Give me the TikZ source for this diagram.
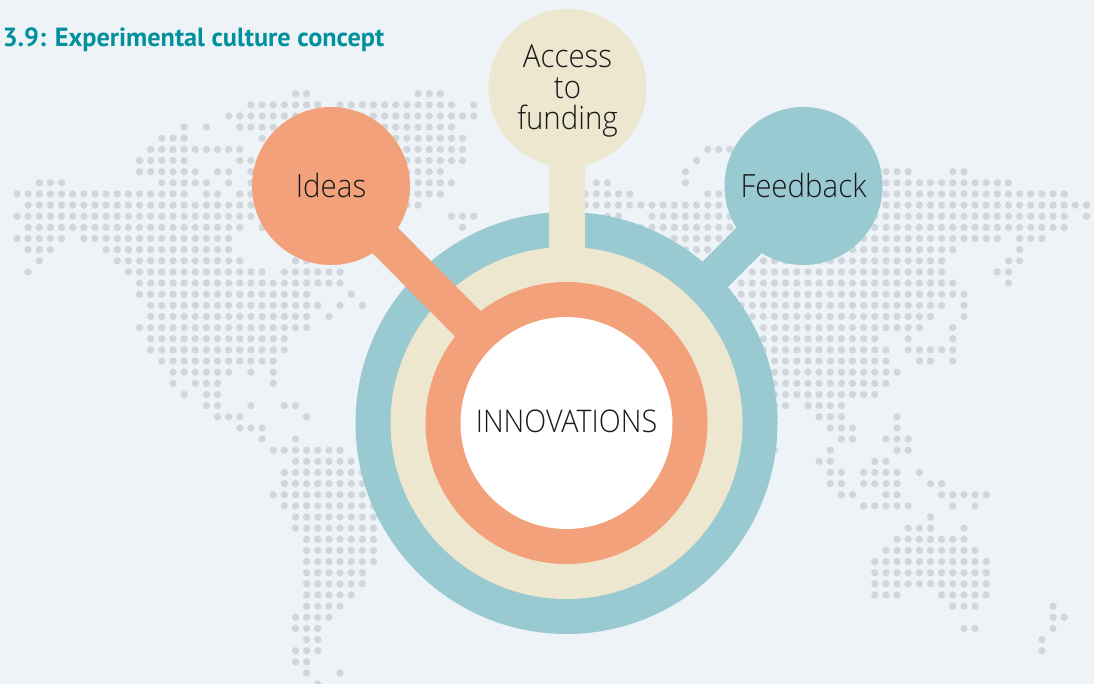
\documentclass[tikz,border=0pt]{standalone}
\usepackage{fontspec}
\usepackage{tikz}
\setmainfont{Open Sans}[UprightFont=* Light,FakeStretch=.92]
\newfontfamily\headfont{PT Sans}
\definecolor{PageBlue}{HTML}{EDF3F7}
\definecolor{MapGray}{HTML}{D1D6DB}
\definecolor{RingTeal}{HTML}{9ACAD1}
\definecolor{RingCream}{HTML}{EEE7D0}
\definecolor{RingOrange}{HTML}{F3A17A}
\definecolor{HeadTeal}{HTML}{00909E}
\definecolor{LabelInk}{HTML}{1A1A1A}
\tikzset{
  disc/.style={circle,inner sep=0pt,text=LabelInk,align=center},
  bubble/.style={disc,minimum size=118.5pt,font=\fontsize{24}{23}\selectfont},
  stem/.style={line width=27pt,shorten <=-12pt,shorten >=-12pt},
}
\begin{document}
\begin{tikzpicture}[x=.75pt,y=-.75pt]
\clip (0,0) rectangle (1094,684);
\fill[PageBlue] (0,0) rectangle (1094,684);
% row/first/last of every run of map dots
\foreach \row/\first/\last in {
0/25/26,0/36/38,
1/21/27,1/29/39,1/41/41,
2/19/41,
3/15/15,3/17/17,3/20/39,
4/13/15,4/22/40,
5/12/20,5/23/40,5/62/64,
6/11/15,6/20/40,6/61/61,
7/11/16,7/18/19,7/21/38,7/60/60,7/78/80,7/84/85,
8/2/4,8/13/17,8/19/19,8/21/39,8/52/53,8/60/60,8/78/89,
9/0/15,9/17/18,9/20/38,9/51/55,9/62/63,9/78/94,
10/1/36,10/51/96,
11/0/21,11/39/41,11/53/54,11/57/94,11/96/96,
12/1/20,12/22/22,12/40/40,12/56/94,
13/0/4,13/6/19,13/59/88,13/90/92,
14/1/3,14/8/19,14/60/62,14/67/84,14/90/90,
15/2/2,15/9/20,15/25/26,15/67/83,15/89/90,
16/1/1,16/10/22,16/24/29,16/66/83,16/88/89,
17/11/29,17/65/84,17/89/89,
18/11/26,18/30/30,18/65/85,
19/12/27,19/29/29,19/31/31,19/65/83,19/85/85,
20/12/26,20/28/28,20/66/82,20/85/85,
21/11/26,21/67/81,21/84/84,
22/12/24,22/67/77,22/80/80,22/84/84,
23/12/24,23/67/78,23/80/84,
24/13/23,24/68/78,24/81/82,24/84/84,
25/14/19,25/21/21,25/23/23,25/68/79,
26/14/14,26/16/18,26/23/23,26/68/78,
27/15/15,27/17/18,27/68/77,
28/17/18,28/21/21,28/24/25,28/68/69,28/71/74,
29/18/20,29/26/26,29/68/68,29/72/74,29/79/79,
30/20/22,30/73/75,30/79/79,
31/22/22,31/25/25,31/74/75,31/78/80,
32/23/29,32/68/68,32/73/73,32/79/80,
33/25/30,33/72/73,33/77/78,
34/24/31,34/73/74,34/76/79,34/81/81,
35/24/31,35/73/74,35/76/79,35/82/83,
36/23/31,36/74/75,36/78/79,36/83/87,
37/24/32,37/76/80,37/84/84,37/86/86,
38/25/32,38/82/82,
39/25/32,39/80/82,39/85/85,
40/26/32,40/79/85,
41/26/32,41/78/86,
42/26/32,42/77/87,
43/26/31,43/77/87,
44/26/31,44/77/87,
45/26/30,45/77/79,45/83/87,
46/26/29,46/84/86,46/93/93,
47/25/28,47/93/94,
48/25/27,48/85/86,48/93/93,
49/26/27,49/92/92,
50/25/27,50/92/92,
51/25/26,
52/26/26,52/29/29,
53/27/27}
  \foreach \col in {\first,...,\last}
    \fill[MapGray] ({17+11.14*\col},{93.7+11.14*\row}) circle (2.74pt);

\node[anchor=base west,inner sep=0pt,text=HeadTeal,font=\headfont\bfseries\fontsize{19.7}{22}\selectfont] (title) at (2.5,47) {3.9: Experimental culture concept};

\node[disc,fill=RingTeal,minimum size=316.5pt] (tealring) at (566.5,423) {};
\node[bubble,fill=RingTeal] (feedback) at (803.5,186) {Feedback};
\draw[stem,RingTeal] (feedback) -- (tealring);

\node[disc,fill=RingCream,minimum size=264pt] (creamring) at (566.5,423) {};
\node[bubble,fill=RingCream,text depth=1.5pt] (access) at (567.5,88) {Access\\to\\funding};
\draw[stem,RingCream] (access) -- (creamring);

\node[disc,fill=RingOrange,minimum size=211.5pt] (orangering) at (566.5,423) {};
\node[bubble,fill=RingOrange] (ideas) at (331,186) {Ideas};
\draw[stem,RingOrange] (ideas) -- (orangering);

\node[disc,fill=white,minimum size=159pt,text depth=3pt,font=\fontsize{23.4}{24}\selectfont] (innovations) at (566.5,423) {INNOVATIONS};
\end{tikzpicture}
\end{document}
